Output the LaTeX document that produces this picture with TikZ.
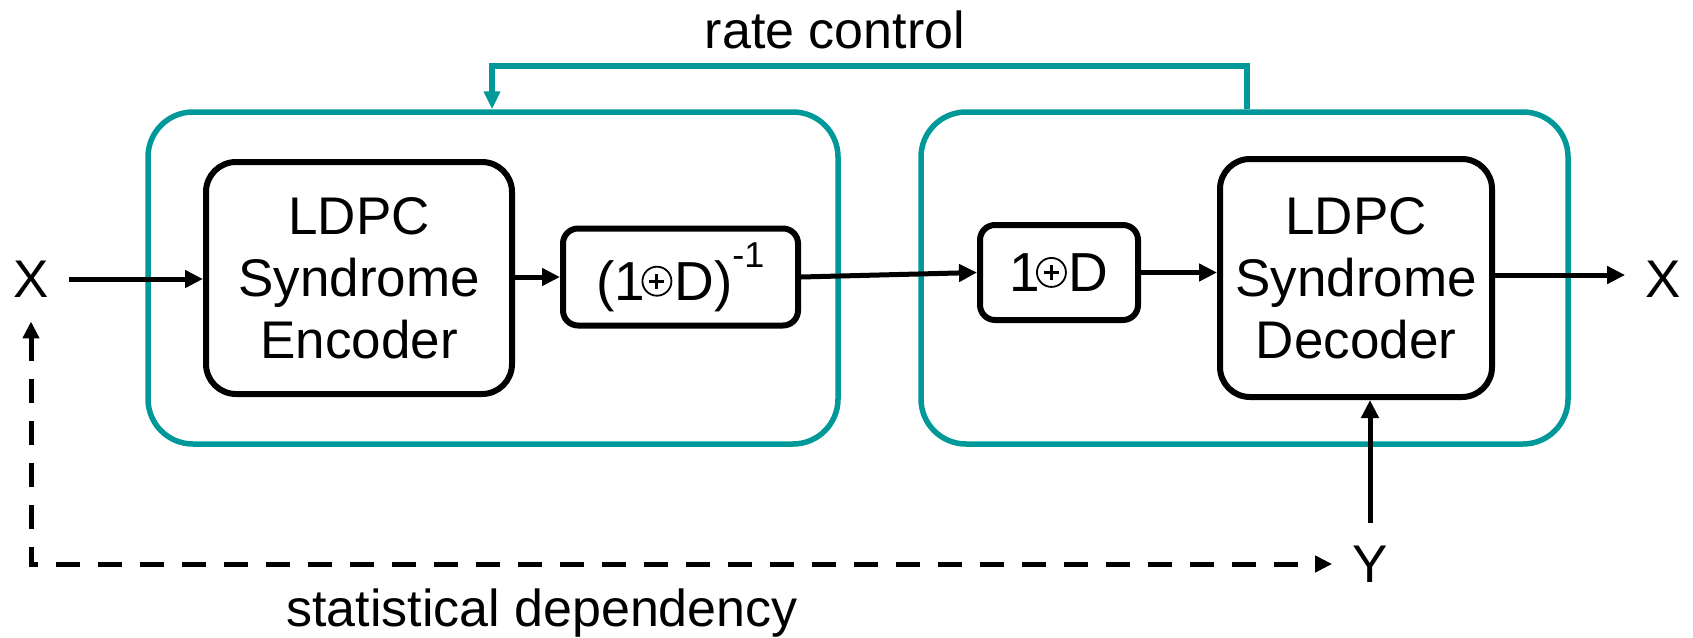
\documentclass[tikz,border=0pt]{standalone}
\usepackage{fontspec}
\setmainfont{Liberation Sans}
\usetikzlibrary{arrows.meta,positioning}
\definecolor{tealc}{RGB}{0,152,152}
\newcommand{\opl}{\kern-4pt\tikz[baseline=0pt,x=1pt,y=1pt]{\draw[line width=1.8pt,black] (15,19) circle[radius=14.5pt];
  \draw[line width=3pt,black] (7.5,19) -- (22.5,19) (15,11.5) -- (15,26.5);}\kern2pt}
\newcommand{\supm}{\raisebox{33pt}{\fontsize{36}{36}\selectfont -1}}
\begin{document}
\begin{tikzpicture}[x=1pt,y=-1pt,
  txt/.style={font=\fontsize{53}{60}\selectfont, inner sep=0pt},
  lbl/.style={font=\fontsize{52}{60}\selectfont, inner sep=0pt, anchor=base},
  blk/.style={draw=black, line width=6pt, rounded corners=30pt, align=center,
    font=\fontsize{53}{62}\selectfont, inner sep=0pt},
  sblk/.style={draw=black, line width=6pt, rounded corners=15pt, align=center,
    font=\fontsize{55}{62}\selectfont, inner sep=0pt},
  grp/.style={draw=tealc, line width=5.5pt, rounded corners=45pt, inner sep=0pt},
  arr/.style={line width=5pt, -{Triangle[length=18pt,width=17pt]}},
  tarr/.style={draw=tealc, line width=5.5pt, -{Triangle[length=18pt,width=16pt]}},
  darr/.style={line width=5pt, dash pattern=on 24pt off 18pt,
    {Triangle[length=17pt,width=16pt]}-{Triangle[length=17pt,width=16pt]}}
]
\useasboundingbox (0,0) rectangle (1693,637);
% groups
\node[grp, minimum width=690pt, minimum height=332pt] (gl) at (493,278) {};
\node[grp, minimum width=647pt, minimum height=332pt] (gr) at (1244.5,278) {};
% blocks
\node[blk, minimum width=306pt, minimum height=232pt] (enc) at (359,278) {LDPC\\Syndrome\\Encoder};
\node[sblk, minimum width=235pt, minimum height=97pt] (inv) at (680.5,277) {(1\opl D)\supm};
\node[sblk, minimum width=158pt, minimum height=95pt] (acc) at (1059,272.5) {1\opl D};
\node[blk, minimum width=272pt, minimum height=238pt] (dec) at (1356,278) {LDPC\\Syndrome\\Decoder};
% terminals
\node[txt] (xin) at (31,279) {X};
\node[txt] (xout) at (1663,279) {X};
\node[txt] (y) at (1370,564) {Y};
\node[lbl] (rc) at (835,48) {rate control};
\node[lbl] (sd) at (542,626) {statistical dependency};
% connectors
\draw[arr] ([xshift=20pt]xin.east) -- (enc.west |- xin.east);
\draw[arr] (enc.east |- inv.west) -- (inv.west);
\draw[arr] (inv.east) -- (acc.west);
\draw[arr] (acc.east) -- (dec.west |- acc.east);
\draw[arr] (dec.east |- 0,275) -- ([xshift=-20pt]xout.west |- 0,275);
\draw[arr] ([yshift=23pt]y.north) -- (dec.south -| y.north);
\coordinate (fbR) at (1247,66);
\coordinate (fbL) at (492,66);
\draw[tarr] (gr.north -| fbR) -- (fbR) -- (fbL) -- (gl.north -| fbL);
\coordinate (corner) at (xin.south |- y.west);
\draw[darr] ([yshift=-24pt]xin.south) -- (corner) -- ([xshift=-20pt]y.west);
\end{tikzpicture}
\end{document}
